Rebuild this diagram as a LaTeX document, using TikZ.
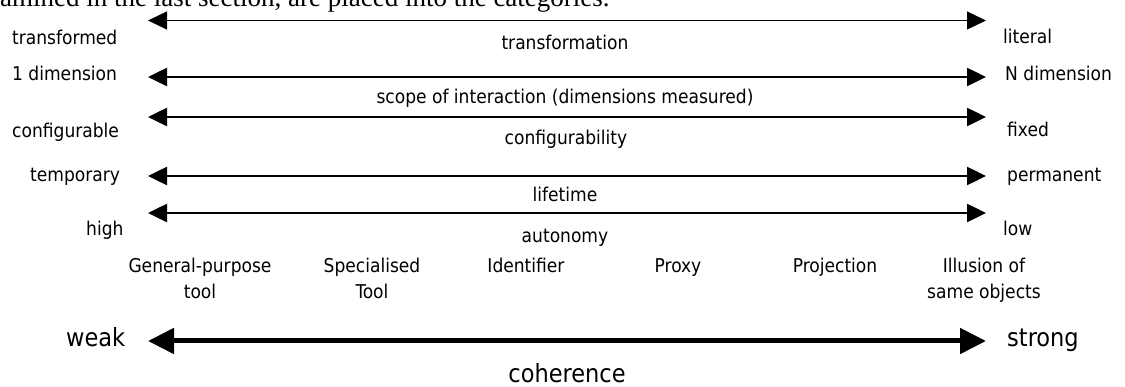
\documentclass[tikz,border=0pt]{standalone}
\usepackage{fontspec}
\setmainfont{Liberation Serif}
\newfontfamily\labelfont{DejaVu Sans Condensed}
\usetikzlibrary{arrows.meta}

\begin{document}
\begin{tikzpicture}[x=1pt,y=-1pt,
  lbl/.style={font=\labelfont\fontsize{19}{22}\selectfont, inner sep=0pt, anchor=mid},
  lblw/.style={lbl, anchor=mid west},
  biglbl/.style={font=\labelfont\fontsize{25}{30}\selectfont, inner sep=0pt, anchor=mid},
  biglblw/.style={biglbl, anchor=mid west},
  bodytext/.style={font=\fontsize{27}{32}\selectfont, inner sep=0pt, anchor=base west},
  thintip/.tip={Triangle[length=19pt,width=18pt]},
  bigtip/.tip={Triangle[length=26pt,width=25pt]},
  thinscale/.style={line width=1.2pt, thintip-thintip},
  midscale/.style={line width=2.5pt, thintip-thintip},
  bigscale/.style={line width=5pt, bigtip-bigtip}]
\useasboundingbox (0,0) rectangle (1125,387);
\clip (0,0) rectangle (1125,387);

% running text of the page above the figure
\node[bodytext] (para) at (-25.6,6.5) {examined in the last section, are placed into the categories.};

% end points of the scales
\coordinate (s1l) at (148,20.5);  \coordinate (s1r) at (986,20.5);
\coordinate (s2l) at (148,77);    \coordinate (s2r) at (986,77);
\coordinate (s3l) at (148,117);   \coordinate (s3r) at (986,117);
\coordinate (s4l) at (148,176);   \coordinate (s4r) at (986,176);
\coordinate (s5l) at (148,213);   \coordinate (s5r) at (986,213);
\coordinate (s6l) at (148,341);   \coordinate (s6r) at (986,341);

% scales
\draw[thinscale] (s1l) -- (s1r);
\draw[midscale]  (s2l) -- (s2r);
\draw[midscale]  (s3l) -- (s3r);
\draw[midscale]  (s4l) -- (s4r);
\draw[midscale]  (s5l) -- (s5r);
\draw[bigscale]  (s6l) -- (s6r);

% transformation
\node[lblw] (transformed) at (12,42) {transformed};
\node[lblw] (literal) at (1003,41) {literal};
\node[lbl]  (transformation) at (565,47) {transformation};

% scope of interaction
\node[lblw] (onedim) at (12,78) {1 dimension};
\node[lblw] (ndim) at (1005,78) {N dimension};
\node[lbl]  (scope) at (565,101) {scope of interaction (dimensions measured)};

% configurability
\node[lblw] (configurable) at (12,135) {configurable};
\node[lblw] (fixed) at (1007,134) {fixed};
\node[lbl]  (configurability) at (566,142) {configurability};

% lifetime
\node[lblw] (temporary) at (30,179) {temporary};
\node[lblw] (permanent) at (1007,179) {permanent};
\node[lbl]  (lifetime) at (565,199) {lifetime};

% autonomy
\node[lblw] (high) at (86,233) {high};
\node[lblw] (low) at (1003,233) {low};
\node[lbl]  (autonomy) at (565,240) {autonomy};

% categories
\node[lbl] (gp1) at (200,270) {General-purpose};
\node[lbl] (gp2) at (200,296) {tool};
\node[lbl] (sp1) at (372,270) {Specialised};
\node[lbl] (sp2) at (372,296) {Tool};
\node[lbl] (ident) at (526,270) {Identifier};
\node[lbl] (proxy) at (678,270) {Proxy};
\node[lbl] (proj) at (835,270) {Projection};
\node[lbl] (ill1) at (984,270) {Illusion of};
\node[lbl] (ill2) at (984,296) {same objects};

% coherence
\node[biglblw] (weak) at (66,344) {weak};
\node[biglblw] (strong) at (1007,344) {strong};
\node[biglbl]  (coherence) at (567,380) {coherence};
\end{tikzpicture}
\end{document}
